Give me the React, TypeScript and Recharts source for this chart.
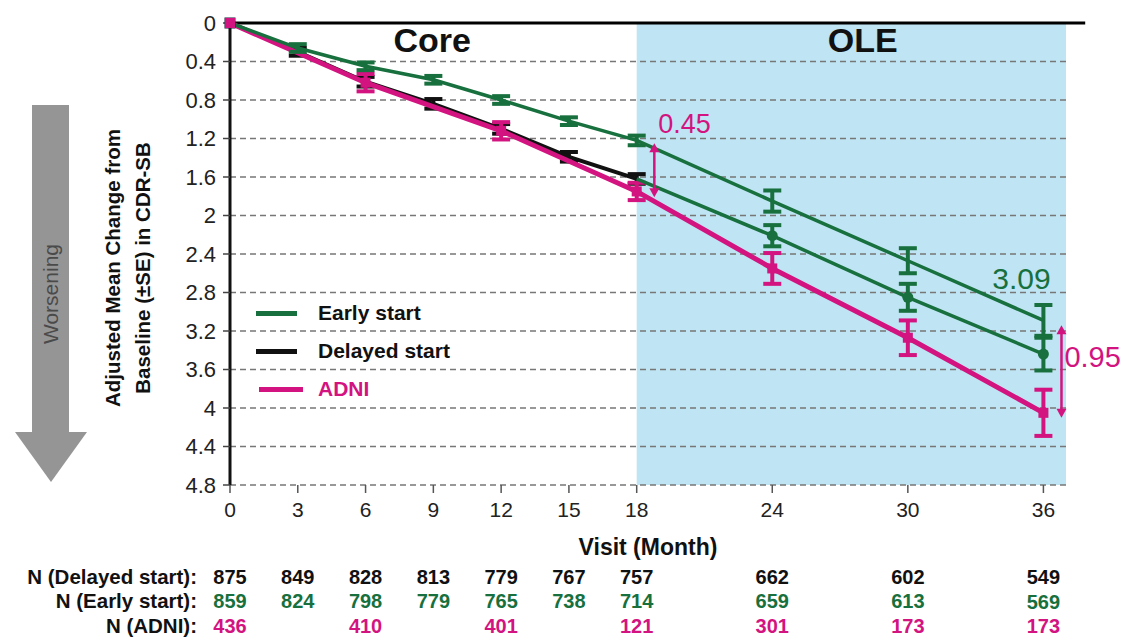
import React from 'react';
import {
  ComposedChart,
  Line,
  XAxis,
  YAxis,
  ErrorBar,
  ReferenceArea,
  ReferenceLine,
  ReferenceDot,
} from 'recharts';

// visits (months) and values
const months = [0, 3, 6, 9, 12, 15, 18, 24, 30, 36];
const yTicks = [0, 0.4, 0.8, 1.2, 1.6, 2, 2.4, 2.8, 3.2, 3.6, 4, 4.4, 4.8];

const earlyStart = [0, 0.26, 0.45, 0.59, 0.8, 1.02, 1.22, 1.85, 2.47, 3.09];
const earlyErr = [null, 0.04, 0.04, 0.04, 0.04, 0.04, 0.05, 0.11, 0.13, 0.16];

const delayedCore = [0, 0.3, 0.61, 0.84, 1.1, 1.39, 1.62, null, null, null];
const delayedCoreErr = [null, 0.04, 0.05, 0.05, 0.05, 0.05, 0.05, null, null, null];

const delayedOle = [null, null, null, null, null, null, 1.62, 2.21, 2.85, 3.44];
const delayedOleErr = [null, null, null, null, null, null, null, 0.11, 0.14, 0.17];

const adni = [0, null, 0.62, null, 1.12, null, 1.75, 2.55, 3.27, 4.05];
const adniErr = [null, null, 0.09, null, 0.09, null, 0.09, 0.16, 0.18, 0.24];

const nDelayed = ['875', '849', '828', '813', '779', '767', '757', '662', '602', '549'];
const nEarly = ['859', '824', '798', '779', '765', '738', '714', '659', '613', '569'];
const nAdni = ['436', '', '410', '', '401', '', '121', '301', '173', '173'];

const GREEN = '#17703d';
const MAGENTA = '#d3137f';
const BLACK = '#111111';
const OLE_BLUE = '#bfe4f3';
const FONT = '"Liberation Sans", Arial, Helvetica, sans-serif';

const data = months.map((m, i) => ({
  month: m,
  early: earlyStart[i],
  earlyErr: earlyErr[i],
  delayed: delayedCore[i],
  delayedErr: delayedCoreErr[i],
  delayedOle: delayedOle[i],
  delayedOleErr: delayedOleErr[i],
  adni: adni[i],
  adniErr: adniErr[i],
}));

const legendItems = [
  { name: 'Early start', color: GREEN, text: '#111' },
  { name: 'Delayed start', color: BLACK, text: '#111' },
  { name: 'ADNI', color: MAGENTA, text: MAGENTA },
];

const squareDot = (color: string, size: number, onlyFirst = false) => (props: any) => {
  const { cx, cy, value, index } = props;
  if (cy == null || value == null || (onlyFirst && index !== 0)) return <g key={`d${index}`} />;
  return <rect key={`d${index}`} x={cx - size / 2} y={cy - size / 2} width={size} height={size} fill={color} />;
};

const circleDot = (props: any) => {
  const { cx, cy, value, payload, index } = props;
  if (cy == null || value == null || payload.month <= 18) return <g key={`c${index}`} />;
  return <circle key={`c${index}`} cx={cx} cy={cy} r={5.5} fill={GREEN} />;
};

const MonthTick = (props: any) => {
  const { x, y, payload } = props;
  const i = months.indexOf(payload.value);
  const num = { fontFamily: FONT, fontSize: 20, fontWeight: 700, textAnchor: 'middle' as const };
  const lab = { fontFamily: FONT, fontSize: 20.5, fontWeight: 700, textAnchor: 'end' as const, fill: '#111' };
  return (
    <g>
      <text x={x} y={y + 22} textAnchor="middle" fontFamily={FONT} fontSize={21} fill="#222">
        {payload.value}
      </text>
      <text x={x} y={y + 89} {...num} fill="#111">{nDelayed[i]}</text>
      <text x={x} y={y + 113 + (i === months.length - 1 ? 1 : 0)} {...num} fill={GREEN}>{nEarly[i]}</text>
      <text x={x} y={y + 138} {...num} fill={MAGENTA}>{nAdni[i]}</text>
      {i === 0 && (
        <>
          <text x={x - 33} y={y + 89} {...lab}>N (Delayed start):</text>
          <text x={x - 33} y={y + 113} {...lab}>N (Early start):</text>
          <text x={x - 33} y={y + 138} {...lab}>N (ADNI):</text>
        </>
      )}
    </g>
  );
};

const textMark = (text: string, color: string, size: number, anchor: 'start' | 'middle', bold = false) => (props: any) => (
  <text
    x={props.cx}
    y={props.cy}
    textAnchor={anchor}
    dominantBaseline="central"
    fontFamily={FONT}
    fontSize={size}
    fontWeight={bold ? 700 : 400}
    fill={color}
  >
    {text}
  </text>
);

const doubleArrow = (props: any) => {
  const { x1, y1, x2, y2 } = props;
  const top = Math.min(y1, y2);
  const bot = Math.max(y1, y2);
  return (
    <g>
      <line x1={x1} y1={top + 6} x2={x2} y2={bot - 6} stroke={MAGENTA} strokeWidth={2.5} />
      <polygon points={`${x1 - 5},${top + 9} ${x1 + 5},${top + 9} ${x1},${top}`} fill={MAGENTA} />
      <polygon points={`${x1 - 5},${bot - 9} ${x1 + 5},${bot - 9} ${x1},${bot}`} fill={MAGENTA} />
    </g>
  );
};

export default function App() {
  return (
    <div style={{ position: 'absolute', left: 0, top: 0, width: 1125, height: 637, background: '#fff', fontFamily: FONT, overflow: 'hidden' }}>
      {/* worsening arrow */}
      <svg style={{ position: 'absolute', left: 0, top: 0 }} width={100} height={500}>
        <rect x={32} y={105} width={37} height={328} fill="#959595" />
        <polygon points="15,432 87,432 51,482" fill="#959595" />
        <text
          transform="translate(58,294) rotate(-90)"
          textAnchor="middle"
          fontFamily={FONT}
          fontSize={21}
          fill="#4a4a4a"
        >
          Worsening
        </text>
      </svg>

      {/* y axis title */}
      <svg style={{ position: 'absolute', left: 90, top: 0 }} width={70} height={500}>
        <text transform="translate(30,268) rotate(-90)" textAnchor="middle" fontFamily={FONT} fontSize={20.5} fontWeight={700} fill="#111">
          Adjusted Mean Change from
        </text>
        <text transform="translate(60,268) rotate(-90)" textAnchor="middle" fontFamily={FONT} fontSize={20.5} fontWeight={700} fill="#111">
          Baseline (±SE) in CDR-SB
        </text>
      </svg>

      <div style={{ position: 'absolute', left: 0, top: 0 }}>
        <ComposedChart width={1125} height={637} data={data} margin={{ top: 23, right: 59, bottom: 77, left: 170 }}>
          <ReferenceArea x1={18} x2={37} y1={0} y2={4.8} fill={OLE_BLUE} fillOpacity={1} stroke="none" />
          {yTicks.slice(1).map((t) => (
            <ReferenceLine key={t} y={t} stroke="#777" strokeDasharray="6 4" strokeWidth={1.3} />
          ))}
          <ReferenceLine
            segment={[{ x: 0, y: 0 }, { x: 37.85, y: 0 }]}
            ifOverflow="visible"
            stroke="#000"
            strokeWidth={3}
          />
          <XAxis
            dataKey="month"
            type="number"
            domain={[0, 37]}
            ticks={months}
            interval={0}
            axisLine={false}
            tickLine={{ stroke: '#555', strokeWidth: 1.5 }}
            tickSize={8}
            height={75}
            tick={<MonthTick />}
            label={{ value: 'Visit (Month)', position: 'insideBottom', offset: 5, fontFamily: FONT, fontSize: 23, fontWeight: 700, fill: '#111' }}
          />
          <YAxis
            type="number"
            reversed
            domain={[0, 4.8]}
            ticks={yTicks}
            interval={0}
            width={60}
            axisLine={{ stroke: '#111', strokeWidth: 3 }}
            tickLine={{ stroke: '#444', strokeWidth: 1.5 }}
            tickSize={7}
            tickMargin={7}
            tick={{ fontFamily: FONT, fontSize: 22, fill: '#222' }}
            tickFormatter={(v: number) => String(v)}
          />

          <Line
            dataKey="delayed"
            stroke={BLACK}
            strokeWidth={4}
            dot={squareDot('#1b1b3a', 11, true)}
            activeDot={false}
            isAnimationActive={false}
          >
            <ErrorBar dataKey="delayedErr" direction="y" width={9} stroke={BLACK} strokeWidth={4} />
          </Line>
          <Line
            dataKey="adni"
            stroke={MAGENTA}
            strokeWidth={5}
            connectNulls
            dot={squareDot(MAGENTA, 10)}
            activeDot={false}
            isAnimationActive={false}
          >
            <ErrorBar dataKey="adniErr" direction="y" width={9} stroke={MAGENTA} strokeWidth={4} />
          </Line>
          <Line
            dataKey="delayedOle"
            stroke={GREEN}
            strokeWidth={3.5}
            dot={circleDot}
            activeDot={false}
            isAnimationActive={false}
          >
            <ErrorBar dataKey="delayedOleErr" direction="y" width={9} stroke={GREEN} strokeWidth={4} />
          </Line>
          <Line
            dataKey="early"
            stroke={GREEN}
            strokeWidth={3.5}
            dot={false}
            activeDot={false}
            isAnimationActive={false}
          >
            <ErrorBar dataKey="earlyErr" direction="y" width={9} stroke={GREEN} strokeWidth={4} />
          </Line>

          <ReferenceLine segment={[{ x: 18.78, y: 1.25 }, { x: 18.78, y: 1.81 }]} ifOverflow="visible" shape={doubleArrow} />
          <ReferenceLine segment={[{ x: 36.8, y: 3.14 }, { x: 36.8, y: 4.1 }]} ifOverflow="visible" shape={doubleArrow} />

          <ReferenceDot x={8.95} y={0.18} r={0} ifOverflow="visible" shape={textMark('Core', '#111', 34, 'middle', true)} />
          <ReferenceDot x={28} y={0.18} r={0} ifOverflow="visible" shape={textMark('OLE', '#111', 34, 'middle', true)} />
          <ReferenceDot x={18.95} y={1.05} r={0} ifOverflow="visible" shape={textMark('0.45', MAGENTA, 27, 'start')} />
          <ReferenceDot x={35.03} y={2.65} r={0} ifOverflow="visible" shape={textMark('3.09', GREEN, 30, 'middle')} />
          <ReferenceDot x={36.93} y={3.47} r={0} ifOverflow="visible" shape={textMark('0.95', MAGENTA, 29, 'start')} />
        </ComposedChart>
      </div>

      {/* legend */}
      <div style={{ position: 'absolute', left: 256, top: 294 }}>
        {legendItems.map((it) => (
          <div key={it.name} style={{ display: 'flex', alignItems: 'center', height: 38 }}>
            <div style={{ width: it.name === 'ADNI' ? 44 : 41, height: 5, background: it.color, marginLeft: it.name === 'ADNI' ? 3 : 0 }} />
            <span
              style={{
                marginLeft: it.name === 'ADNI' ? 15 : 21,
                fontSize: 21,
                fontWeight: 700,
                color: it.text,
                fontFamily: FONT,
              }}
            >
              {it.name}
            </span>
          </div>
        ))}
      </div>
    </div>
  );
}
